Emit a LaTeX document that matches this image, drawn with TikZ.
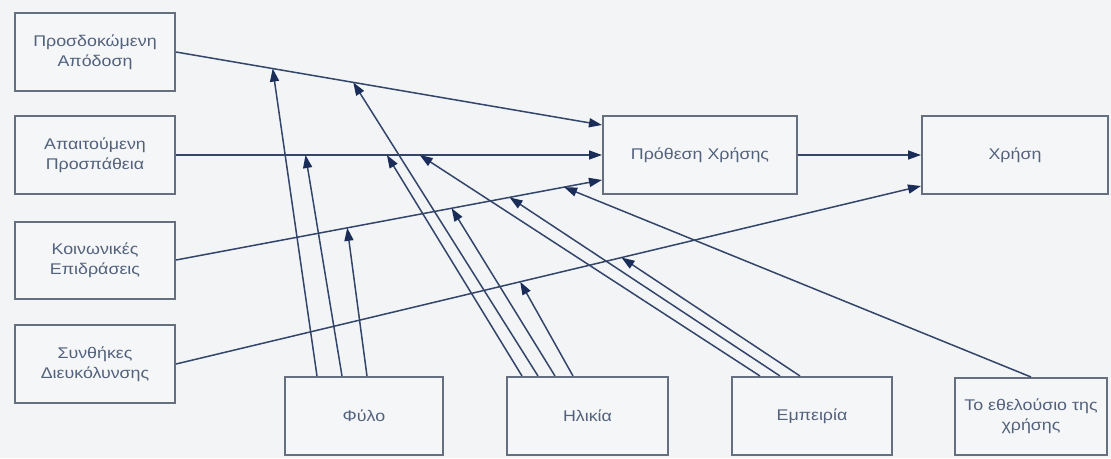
\documentclass[tikz,border=0pt]{standalone}
\usepackage{fontspec}
\setmainfont{Liberation Sans}[FakeStretch=1.15]
\usetikzlibrary{arrows.meta,calc}
\definecolor{bg}{HTML}{F3F4F6}
\definecolor{boxfill}{HTML}{F5F6F8}
\definecolor{boxc}{HTML}{656F80}
\definecolor{txt}{HTML}{52617C}
\definecolor{linec}{HTML}{34456A}
\definecolor{tipc}{HTML}{1A2D58}
\begin{document}
\begin{tikzpicture}[x=1pt,y=-1pt,
  box/.style={draw=boxc, line width=2pt, fill=boxfill, inner sep=0pt,
    text=txt, font=\fontsize{15.5}{20}\selectfont, align=center},
  con/.style={draw=linec, line width=1.5pt,
    -{Triangle[length=13pt,width=9pt,color=tipc]}},
]
\fill[bg] (0,0) rectangle (1111,458);
\useasboundingbox (0,0) rectangle (1111,458);

% left column
\node[box, minimum width=160pt, minimum height=78pt] (pe) at (95,52) {Προσδοκώμενη\\Απόδοση};
\node[box, minimum width=160pt, minimum height=78pt] (ee) at (95,155) {Απαιτούμενη\\Προσπάθεια};
\node[box, minimum width=160pt, minimum height=77pt] (si) at (95,260) {Κοινωνικές\\Επιδράσεις};
\node[box, minimum width=160pt, minimum height=78pt] (fc) at (95,364) {Συνθήκες\\Διευκόλυνσης};
% centre / right
\node[box, minimum width=194pt, minimum height=78pt] (bi) at (700,155) {Πρόθεση Χρήσης};
\node[box, minimum width=186pt, minimum height=78pt] (use) at (1015,155) {Χρήση};
% bottom row
\node[box, minimum width=158pt, minimum height=78pt] (gender) at (364,416) {Φύλο};
\node[box, minimum width=161pt, minimum height=78pt] (age) at (587.5,416) {Ηλικία};
\node[box, minimum width=160pt, minimum height=78pt] (exp) at (812,416) {Εμπειρία};
\node[box, minimum width=152pt, minimum height=77pt] (vol) at (1031,416.5) {Το εθελούσιο της\\χρήσης};

% end points on the target boxes
\coordinate (bi1) at ([yshift=30pt]bi.west);
\coordinate (bi3) at ([yshift=-25pt]bi.west);
\coordinate (use4) at ([yshift=-31pt]use.west);

% main connectors
\draw[con] (pe.east) -- (bi1);
\draw[con] (ee.east) -- (bi.west);
\draw[con] (si.east) -- (bi3);
\draw[con] (fc.east) -- (use4);
\draw[con] (bi.east) -- (use.west);

% points on the main connectors
\path (pe.east) -- (bi1) coordinate[pos=0.227] (p1) coordinate[pos=0.416] (p2);
\path (ee.east) -- (bi.west) coordinate[pos=0.304] (e1) coordinate[pos=0.495] (e2) coordinate[pos=0.572] (e3);
\path (si.east) -- (bi3) coordinate[pos=0.402] (s1) coordinate[pos=0.647] (s2) coordinate[pos=0.783] (s3) coordinate[pos=0.911] (s4);
\path (fc.east) -- (use4) coordinate[pos=0.462] (f1) coordinate[pos=0.598] (f2);

% moderators: gender
\draw[con] ([xshift=-47pt]gender.north) -- (p1);
\draw[con] ([xshift=-22pt]gender.north) -- (e1);
\draw[con] ([xshift=3pt]gender.north) -- (s1);
% age
\draw[con] ([xshift=-65.5pt]age.north) -- (e2);
\draw[con] ([xshift=-49.5pt]age.north) -- (p2);
\draw[con] ([xshift=-32.5pt]age.north) -- (s2);
\draw[con] ([xshift=-14.5pt]age.north) -- (f1);
% experience
\draw[con] ([xshift=-52pt]exp.north) -- (e3);
\draw[con] ([xshift=-32pt]exp.north) -- (s3);
\draw[con] ([xshift=-12pt]exp.north) -- (f2);
% voluntariness
\draw[con] (vol.north) -- (s4);
\end{tikzpicture}
\end{document}
